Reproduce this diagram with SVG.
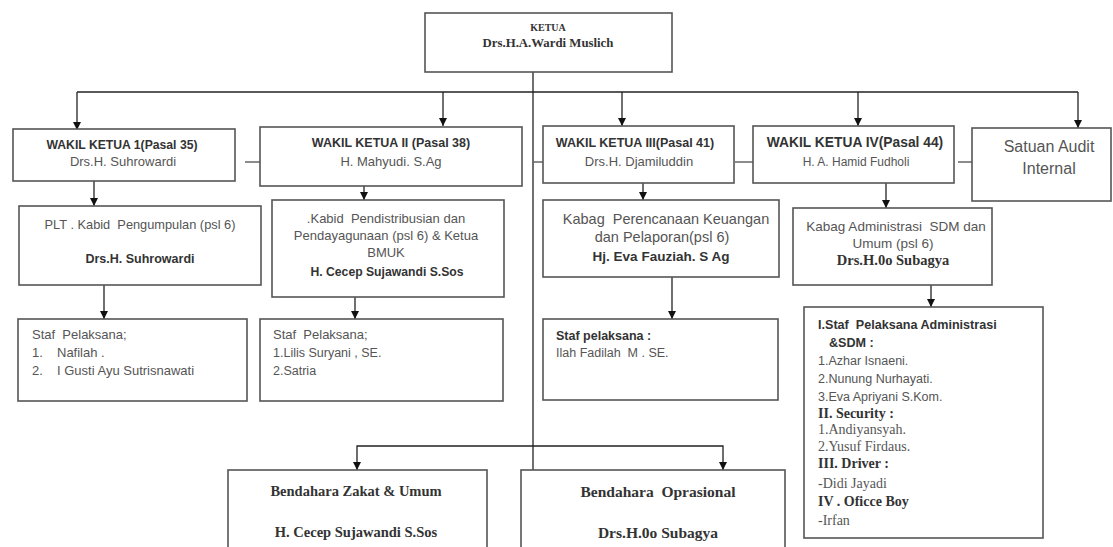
<svg xmlns="http://www.w3.org/2000/svg" width="1113" height="547" viewBox="0 0 1113 547">
<style>
.box{fill:#fff;stroke:#555;stroke-width:1.6}
.ln{fill:none;stroke:#222;stroke-width:1.3}
text{white-space:pre}
.s{font-family:"Liberation Sans",Arial,sans-serif;font-size:12.5px;fill:#555}
.sb{font-family:"Liberation Sans",Arial,sans-serif;font-size:12.2px;font-weight:bold;fill:#333}
.r{font-family:"Liberation Serif","Times New Roman",serif;font-size:14px;fill:#555}
.rb{font-family:"Liberation Serif","Times New Roman",serif;font-size:14px;font-weight:bold;fill:#333}
.c{text-anchor:middle}
</style>
<defs>
<marker id="ah" viewBox="0 0 10 10" refX="10" refY="5" markerWidth="8" markerHeight="8" markerUnits="userSpaceOnUse" orient="auto">
<path d="M0,0 L10,5 L0,10 z" fill="#111"/>
</marker>
</defs>
<rect width="1113" height="547" fill="#fff"/>
<g id="connectors">
<path class="ln" d="M533,72 V470"/>
<path class="ln" d="M77,92 H1078"/>
<path class="ln" d="M77,92 V130" marker-end="url(#ah)"/>
<path class="ln" d="M443,92 V126" marker-end="url(#ah)"/>
<path class="ln" d="M622,92 V126" marker-end="url(#ah)"/>
<path class="ln" d="M858,92 V126" marker-end="url(#ah)"/>
<path class="ln" d="M1078,92 V128" marker-end="url(#ah)"/>
<path class="ln" d="M245,162 H260 M533,162 H543 M735,162 H753 M958,162 H972" style="stroke:#666"/>
<path class="ln" d="M94,181 V206" marker-end="url(#ah)"/>
<path class="ln" d="M104,285 V319" marker-end="url(#ah)"/>
<path class="ln" d="M364,186 V200" marker-end="url(#ah)"/>
<path class="ln" d="M355,297 V319" marker-end="url(#ah)"/>
<path class="ln" d="M643,183 V200" marker-end="url(#ah)"/>
<path class="ln" d="M672,277 V319" marker-end="url(#ah)"/>
<path class="ln" d="M886,183 V208" marker-end="url(#ah)"/>
<path class="ln" d="M931,285 V307" marker-end="url(#ah)"/>
<path class="ln" d="M533,446 H357 V470" marker-end="url(#ah)"/>
<path class="ln" d="M533,446 H723 V470" marker-end="url(#ah)"/>
</g>
<g id="ketua">
<rect class="box" x="425" y="13" width="247" height="59"/>
<text class="rb c" x="548" y="31" style="font-size:10px">KETUA</text>
<text class="rb c" x="548" y="47" style="font-size:12.8px">Drs.H.A.Wardi Muslich</text>
</g>
<g id="wk1">
<rect class="box" x="13" y="129" width="222" height="52"/>
<text class="sb c" x="122" y="149" style="font-size:12.2px">WAKIL KETUA 1(Pasal 35)</text>
<text class="s c" x="123" y="166" style="font-size:13px">Drs.H. Suhrowardi</text>
</g>
<g id="wk2">
<rect class="box" x="260" y="127" width="262" height="59"/>
<text class="sb c" x="391" y="147" style="font-size:12.5px">WAKIL KETUA II (Pasal 38)</text>
<text class="s c" x="391" y="166" style="font-size:13px">H. Mahyudi. S.Ag</text>
</g>
<g id="wk3">
<rect class="box" x="543" y="126" width="191" height="57"/>
<text class="sb c" x="635" y="147" style="font-size:12.5px">WAKIL KETUA III(Pasal 41)</text>
<text class="s c" x="639" y="166" style="font-size:13px">Drs.H. Djamiluddin</text>
</g>
<g id="wk4">
<rect class="box" x="753" y="126" width="201" height="57"/>
<text class="sb c" x="855" y="147" style="font-size:13.8px">WAKIL KETUA IV(Pasal 44)</text>
<text class="s c" x="856" y="166" style="font-size:12px">H. A. Hamid Fudholi</text>
</g>
<g id="sai">
<rect class="box" x="972" y="128" width="139" height="73"/>
<text class="s c" x="1049" y="152" style="font-size:16px">Satuan Audit</text>
<text class="s c" x="1049" y="174" style="font-size:16px">Internal</text>
</g>
<g id="plt">
<rect class="box" x="19" y="206" width="242" height="79"/>
<text class="s c" x="140" y="229" style="font-size:12.8px">PLT . Kabid  Pengumpulan (psl 6)</text>
<text class="sb c" x="140" y="263" style="font-size:12.5px">Drs.H. Suhrowardi</text>
</g>
<g id="kabid">
<rect class="box" x="272" y="200" width="232" height="97"/>
<text class="s c" x="386" y="223" style="font-size:13px">.Kabid  Pendistribusian dan</text>
<text class="s c" x="386" y="240" style="font-size:13px">Pendayagunaan (psl 6) &amp; Ketua</text>
<text class="s c" x="386" y="257" style="font-size:13px">BMUK</text>
<text class="sb c" x="387" y="276" style="font-size:12.2px">H. Cecep Sujawandi S.Sos</text>
</g>
<g id="kabag-keu">
<rect class="box" x="543" y="200" width="236" height="77"/>
<text class="s c" x="666" y="224" style="font-size:14.5px">Kabag  Perencanaan Keuangan</text>
<text class="s c" x="662" y="242" style="font-size:14.5px">dan Pelaporan(psl 6)</text>
<text class="sb c" x="661" y="261" style="font-size:13.5px">Hj. Eva Fauziah. S Ag</text>
</g>
<g id="kabag-adm">
<rect class="box" x="793" y="208" width="199" height="77"/>
<text class="s c" x="896" y="231" style="font-size:13.5px">Kabag Administrasi  SDM dan</text>
<text class="s c" x="893" y="248" style="font-size:13.5px">Umum (psl 6)</text>
<text class="rb c" x="893" y="265" style="font-size:14.5px">Drs.H.0o Subagya</text>
</g>
<g id="staf1">
<rect class="box" x="18" y="319" width="229" height="82"/>
<text class="s" x="32" y="339" style="font-size:13px">Staf  Pelaksana;</text>
<text class="s" x="32" y="357" style="font-size:13px">1.</text><text class="s" x="57" y="357" style="font-size:13px">Nafilah .</text>
<text class="s" x="32" y="375" style="font-size:13px">2.</text><text class="s" x="57" y="375" style="font-size:13px">I Gusti Ayu Sutrisnawati</text>
</g>
<g id="staf2">
<rect class="box" x="260" y="319" width="243" height="82"/>
<text class="s" x="273" y="339" style="font-size:13px">Staf  Pelaksana;</text>
<text class="s" x="273" y="357" style="font-size:12.5px">1.Lilis Suryani , SE.</text>
<text class="s" x="273" y="375" style="font-size:12.5px">2.Satria</text>
</g>
<g id="staf3">
<rect class="box" x="543" y="319" width="235" height="81"/>
<text class="sb" x="556" y="340" style="font-size:12.5px">Staf pelaksana :</text>
<text class="s" x="556" y="357" style="font-size:12.5px">Ilah Fadilah  M . SE.</text>
</g>
<g id="staf4">
<rect class="box" x="804" y="307" width="239" height="231"/>
<text class="sb" x="818" y="329" style="font-size:12.6px">I.Staf  Pelaksana Administrasi</text>
<text class="sb" x="829" y="347" style="font-size:12.6px">&amp;SDM :</text>
<text class="s" x="818" y="365">1.Azhar Isnaeni.</text>
<text class="s" x="818" y="383">2.Nunung Nurhayati.</text>
<text class="s" x="818" y="401">3.Eva Apriyani S.Kom.</text>
<text class="rb" x="818" y="418">II. Security :</text>
<text class="r" x="818" y="434">1.Andiyansyah.</text>
<text class="r" x="818" y="451">2.Yusuf Firdaus.</text>
<text class="rb" x="818" y="468">III. Driver :</text>
<text class="r" x="818" y="488">-Didi Jayadi</text>
<text class="rb" x="818" y="506">IV . Oficce Boy</text>
<text class="r" x="818" y="525">-Irfan</text>
</g>
<g id="bendahara-zakat">
<rect class="box" x="228" y="470" width="259" height="90"/>
<text class="rb c" x="356" y="496" style="font-size:14.5px">Bendahara Zakat &amp; Umum</text>
<text class="rb c" x="356" y="537" style="font-size:14.5px">H. Cecep Sujawandi S.Sos</text>
</g>
<g id="bendahara-oprasional">
<rect class="box" x="521" y="470" width="264" height="90"/>
<text class="rb c" x="658" y="497" style="font-size:15.5px">Bendahara  Oprasional</text>
<text class="rb c" x="658" y="538" style="font-size:15.5px">Drs.H.0o Subagya</text>
</g>
</svg>
